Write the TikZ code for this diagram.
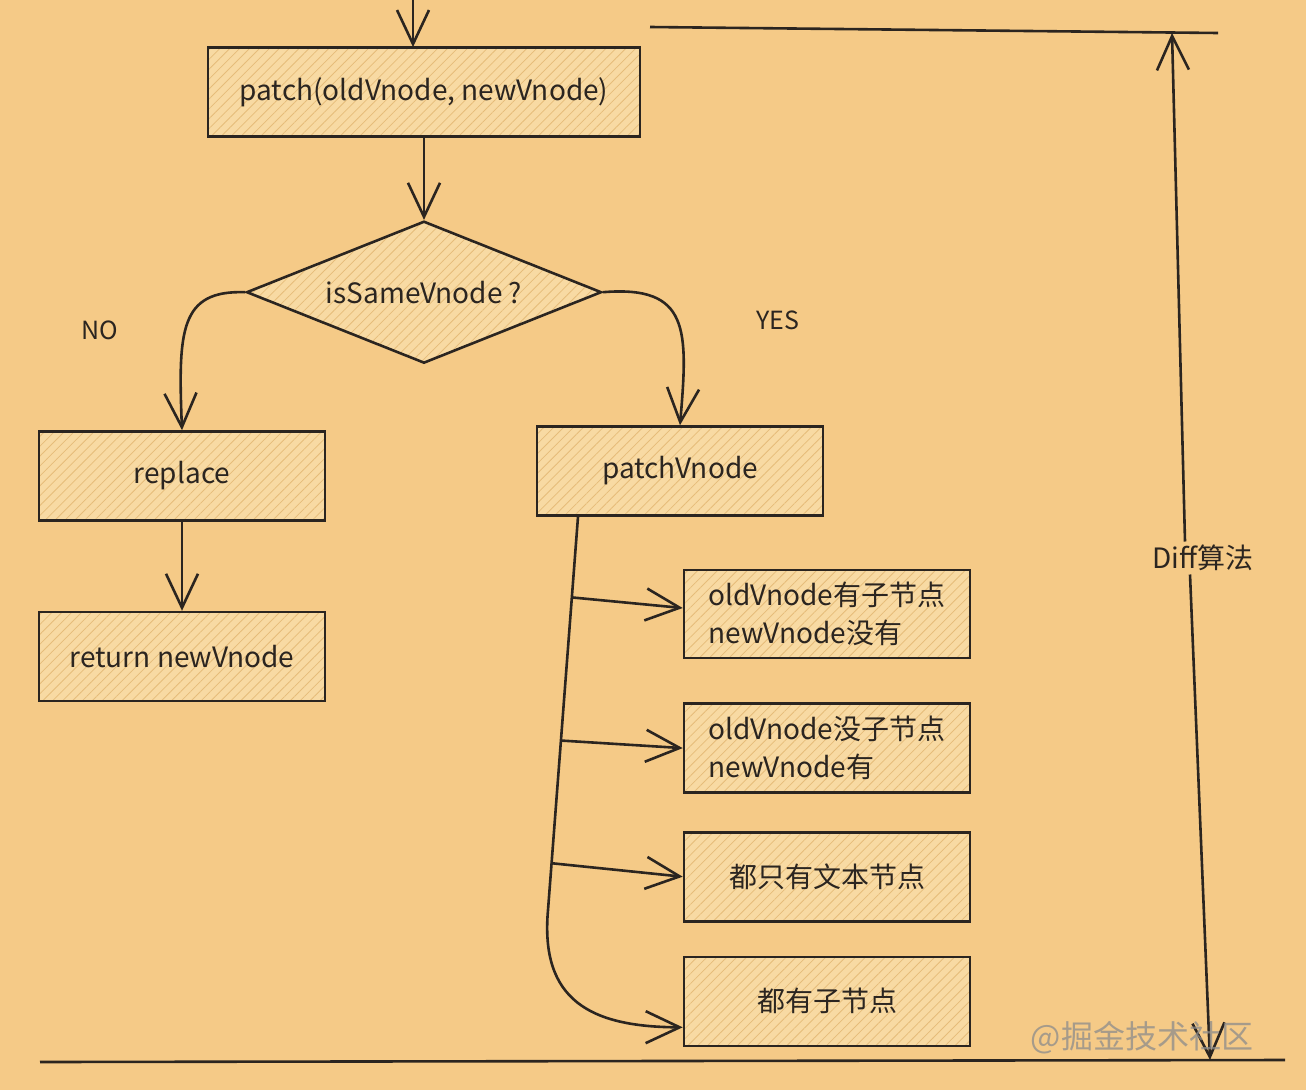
\documentclass[tikz,border=0pt]{standalone}
\usepackage{fontspec}
\newfontfamily\cjk{Noto Sans CJK SC}
\usetikzlibrary{positioning,arrows.meta,shapes.geometric,patterns.meta,calc}
\definecolor{paper}{HTML}{F5CA87}
\definecolor{boxfill}{HTML}{F8DAA3}
\definecolor{hatch}{HTML}{E6BC7A}
\definecolor{ink}{HTML}{2B2520}

\begin{document}
\begin{tikzpicture}[
        x=1pt, y=-1pt,
        every node/.style={font=\cjk\fontsize{28}{38}\selectfont, text=ink},
        process/.style={rectangle, draw=ink, line width=2.6pt, preaction={fill=boxfill}, pattern={Lines[angle=45,distance=7pt,line width=0.8pt]}, pattern color=hatch, minimum width=286pt, minimum height=89pt, align=left},
        decision/.style={diamond, draw=ink, line width=2.6pt, preaction={fill=boxfill}, pattern={Lines[angle=45,distance=7pt,line width=0.8pt]}, pattern color=hatch, aspect=2.5, minimum width=355pt, minimum height=142pt, inner sep=0pt},
        tag/.style={font=\cjk\fontsize{25}{30}\selectfont},
        link/.style={draw=ink, line width=2.6pt},
        arrow/.style={link, -{Straight Barb[length=34pt,width=32pt,line width=2.6pt]}}
    ]
        % Canvas
        \fill[paper] (0,0) rectangle (1306,1090);
        \useasboundingbox (0,0) rectangle (1306,1090);

        % Start
        \node[process, minimum width=432pt] (patch) at (424,92) {patch(oldVnode, newVnode)};
        \coordinate (in) at (413,0);
        \draw[arrow] (in) -- (in |- patch.north);

        % Same node?
        \node[decision, below=83pt of patch] (same) {isSameVnode ?};
        \draw[arrow] (patch) -- (same);

        % No branch
        \node[process] (replace) at (182,476) {replace};
        \node[process, below=89pt of replace] (ret) {return newVnode};
        \node[tag] (no) at (100,330) {NO};
        \draw[arrow] (same.west) .. controls (180,290) and (178,330) .. (replace.north);
        \draw[arrow] (replace) -- (ret);

        % Yes branch
        \node[process] (pv) at (680,471) {patchVnode};
        \node[tag] (yes) at (778,320) {YES};
        \draw[arrow] (same.east) .. controls (690,285) and (688,330) .. (pv.north);

        % Cases
        \node[process, minimum height=88pt] (c1) at (827,614) {oldVnode有子节点\\newVnode没有};
        \node[process, below=43pt of c1] (c2) {oldVnode没子节点\\newVnode有};
        \node[process, below=37pt of c2] (c3) {都只有文本节点};
        \node[process, below=33pt of c3] (c4) {都有子节点};

        \coordinate (t0) at ([xshift=-102pt]pv.south);
        \coordinate (bend) at (548,910);
        \draw[arrow] (t0) -- (bend) .. controls (540,1000) and (590,1027) .. ([yshift=-26pt]c4.west);
        \draw[arrow] ($(t0)!0.205!(bend)$) -- ([yshift=6pt]c1.west);
        \draw[arrow] ($(t0)!0.569!(bend)$) -- (c2.west);
        \draw[arrow] ($(t0)!0.881!(bend)$) -- (c3.west);

        % Diff span
        \coordinate (tl) at (650,27);
        \coordinate (tr) at (1218,33);
        \coordinate (bl) at (40,1062);
        \coordinate (br) at (1285,1060);
        \draw[link] (tl) -- (tr);
        \draw[link] (bl) -- (br);
        \node (diff) at (1203,558) {Diff算法};
        \coordinate (up) at (1172,33);
        \coordinate (down) at (1210,1060);
        \draw[arrow] ([xshift=-18pt]diff.north) -- (up);
        \draw[arrow] ([xshift=-13pt]diff.south) -- (down);

        % Watermark
        \node[font=\cjk\fontsize{32}{32}\selectfont, text=black!45, opacity=0.75] (mark) at (1142,1038) {@掘金技术社区};
    \end{tikzpicture}
\end{document}
